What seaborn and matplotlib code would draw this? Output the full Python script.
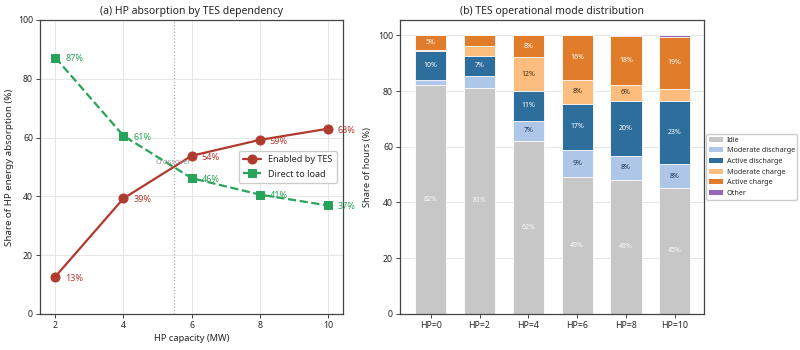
import numpy as np
import pandas as pd
import matplotlib
matplotlib.use("Agg")
import matplotlib.pyplot as plt
from matplotlib.patches import Patch
import seaborn as sns

# ---- data ----
hp_capacity = [2, 4, 6, 8, 10]
enabled_by_tes = [12.7, 39.3, 53.8, 59.2, 63.0]
direct_to_load = [87.2, 60.6, 46.2, 40.6, 36.9]
enabled_labels = ["13%", "39%", "54%", "59%", "63%"]
direct_labels = ["87%", "61%", "46%", "41%", "37%"]

hp_cases = ["HP=0", "HP=2", "HP=4", "HP=6", "HP=8", "HP=10"]
modes = ["Idle", "Moderate discharge", "Active discharge", "Moderate charge", "Active charge", "Other"]
idle = [82.3, 81.2, 62.1, 49.3, 48.2, 45.3]
moderate_discharge = [1.8, 4.3, 7.2, 9.4, 8.4, 8.4]
active_discharge = [10.3, 7.1, 10.8, 16.8, 19.8, 22.8]
moderate_charge = [0.4, 3.7, 12.0, 8.3, 5.8, 4.4]
active_charge = [5.2, 3.7, 7.9, 16.2, 17.7, 18.6]
other = [0.0, 0.0, 0.0, 0.0, 0.1, 0.5]

sns.set_theme(style="whitegrid")
plt.rcParams["font.family"] = ["Noto Sans", "DejaVu Sans"]

fig = plt.figure(figsize=(8, 3.5), dpi=100)
ax1 = fig.add_axes([0.05, 0.103, 0.379, 0.84])
ax2 = fig.add_axes([0.50, 0.103, 0.38, 0.84])

red = "#b03a2e"
green = "#27a35a"

# ---- left panel ----
df_line = pd.DataFrame({
    "HP": hp_capacity * 2,
    "share": enabled_by_tes + direct_to_load,
    "series": ["Enabled by TES"] * 5 + ["Direct to load"] * 5,
})
sns.lineplot(data=df_line[df_line.series == "Enabled by TES"], x="HP", y="share",
             color=red, marker="o", markersize=6.5, linewidth=1.6, ax=ax1,
             label="Enabled by TES", markeredgecolor=red)
sns.lineplot(data=df_line[df_line.series == "Direct to load"], x="HP", y="share",
             color=green, marker="s", markersize=5.5, linewidth=1.6, ax=ax1,
             linestyle="--", label="Direct to load", markeredgecolor=green)
for x, y, t in zip(hp_capacity, enabled_by_tes, enabled_labels):
    ax1.annotate(t, (x, y), xytext=(7, -1), textcoords="offset points",
                 color=red, fontsize=6.5, fontweight="bold", va="center")
for x, y, t in zip(hp_capacity, direct_to_load, direct_labels):
    ax1.annotate(t, (x, y), xytext=(7, -1), textcoords="offset points",
                 color=green, fontsize=6.5, fontweight="bold", va="center")

# crossover
e = np.array(enabled_by_tes); d = np.array(direct_to_load)
i = int(np.where(np.diff(np.sign(e - d)))[0][0])
t = (d[i] - e[i]) / ((e[i + 1] - e[i]) - (d[i + 1] - d[i]))
xc = hp_capacity[i] + t * (hp_capacity[i + 1] - hp_capacity[i])
yc = e[i] + t * (e[i + 1] - e[i])
ax1.axvline(xc, color="#aaaaaa", linestyle=":", linewidth=0.9, zorder=0)
ax1.text(xc, yc + 1.5, "Crossover", color="#999999", fontsize=5.5,
         ha="center", va="center")

ax1.set_xlim(1.55, 10.45)
ax1.set_ylim(0, 100)
ax1.set_xticks(hp_capacity)
ax1.set_yticks([0, 20, 40, 60, 80, 100])
ax1.set_xlabel("HP capacity (MW)", fontsize=6.7, labelpad=3)
ax1.set_ylabel("Share of HP energy absorption (%)", fontsize=7, labelpad=3)
ax1.set_title("(a) HP absorption by TES dependency", fontsize=7.5, fontweight="bold", pad=4)
ax1.tick_params(labelsize=6.3, length=3, width=0.7, color="#444444", left=True, bottom=True, pad=2)
ax1.grid(True, color="#e6e6e6", linewidth=0.7)
for s in ax1.spines.values():
    s.set_color("#444444"); s.set_linewidth(0.9)
ax1.legend(loc="center right", fontsize=6.5, frameon=True, framealpha=1,
           edgecolor="#cccccc", fancybox=True, bbox_to_anchor=(0.995, 0.5),
           borderpad=0.5, labelspacing=0.6)

# ---- right panel (stacked bars) ----
colors = ["#c7c7c7", "#aec7e8", "#2e6e9c", "#fdbd7e", "#e07c2a", "#9467bd"]
series = [idle, moderate_discharge, active_discharge, moderate_charge, active_charge, other]
label_colors = ["white", "#1f2f4f", "white", "#3a2a10", "white", "white"]
arr = np.array(series)
cum = np.cumsum(arr, axis=0)

for k in range(len(modes) - 1, -1, -1):
    dfb = pd.DataFrame({"case": hp_cases, "top": cum[k]})
    sns.barplot(data=dfb, x="case", y="top", color=colors[k], saturation=1,
                width=0.64, edgecolor="white", linewidth=0.6, ax=ax2)

for k in range(len(modes)):
    for j in range(len(hp_cases)):
        v = arr[k, j]
        if v >= 5:
            yc_ = cum[k, j] - v / 2
            ax2.text(j, yc_, f"{v:.0f}%", ha="center", va="center",
                     fontsize=5, fontweight="bold", color=label_colors[k],
                     alpha=0.9 if k == 0 else 1)

ax2.set_xlim(-0.63, 5.6)
ax2.set_ylim(0, 105.5)
ax2.set_yticks([0, 20, 40, 60, 80, 100])
ax2.set_xlabel("")
ax2.set_ylabel("Share of hours (%)", fontsize=6.7, labelpad=4)
ax2.set_title("(b) TES operational mode distribution", fontsize=7.5, fontweight="bold", pad=4)
ax2.tick_params(labelsize=6.3, length=3, width=0.7, color="#444444", left=True, bottom=True, pad=2)
ax2.grid(False)
ax2.yaxis.grid(True, color="#e6e6e6", linewidth=0.7)
ax2.set_axisbelow(True)
for s in ax2.spines.values():
    s.set_color("#444444"); s.set_linewidth(0.9)
handles = [Patch(facecolor=c, edgecolor="none", label=m) for c, m in zip(colors, modes)]
ax2.legend(handles=handles, loc="center left", bbox_to_anchor=(1.0, 0.5),
           fontsize=5.2, frameon=True, edgecolor="#cccccc", framealpha=1,
           handlelength=2.0, handleheight=0.7, borderpad=0.35, labelspacing=0.5,
           handletextpad=0.5, borderaxespad=0.3)

fig.savefig("out.png", dpi=100)
